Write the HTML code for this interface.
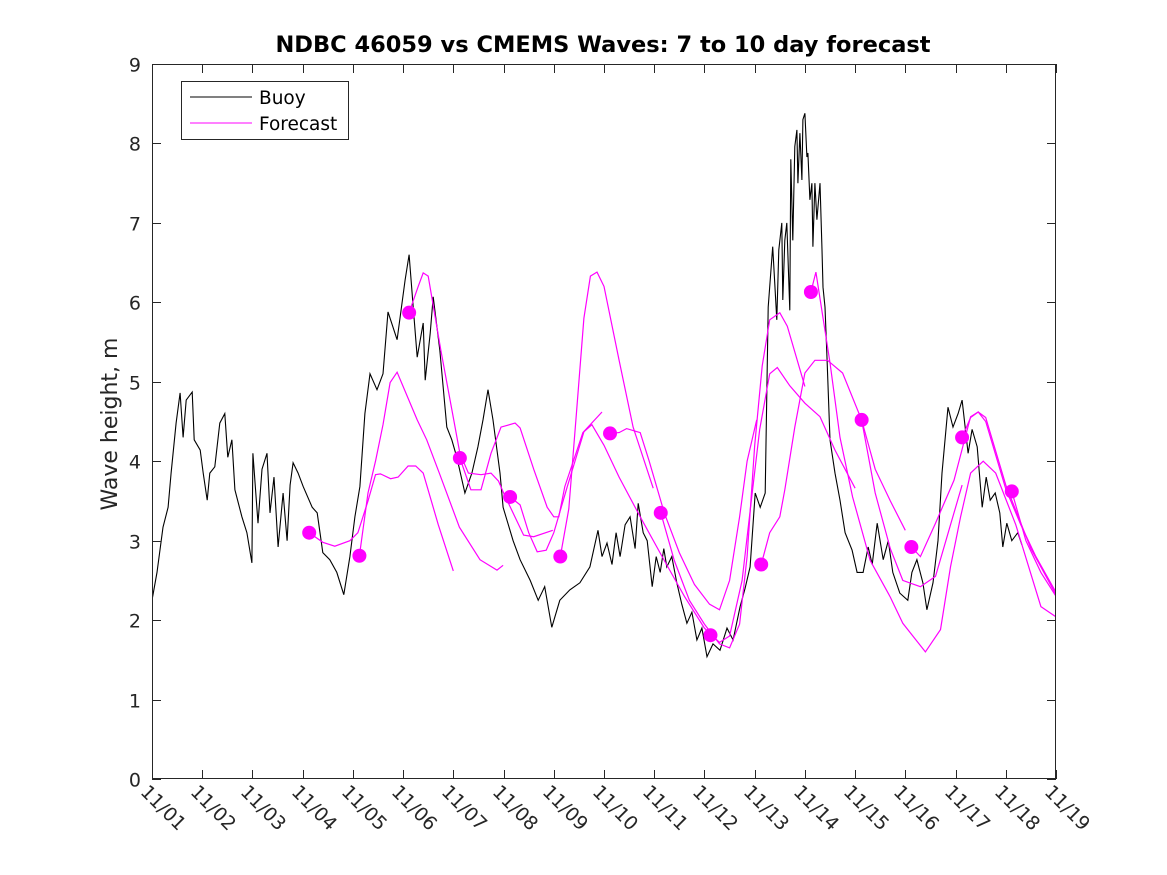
<!DOCTYPE html>
<html><head><meta charset="utf-8"><style>
body{margin:0;background:#fff;}
svg{display:block;font-family:"DejaVu Sans","Liberation Sans",sans-serif;}
</style></head><body>
<svg id="chart" width="1167" height="875" viewBox="0 0 1167 875" xmlns="http://www.w3.org/2000/svg">
<rect width="1167" height="875" fill="#fff"/>
<text x="603" y="52" text-anchor="middle" font-size="22.5" font-weight="bold" fill="#000">NDBC 46059 vs CMEMS Waves: 7 to 10 day forecast</text>
<text transform="translate(117,424) rotate(-90)" text-anchor="middle" font-size="22" fill="#262626">Wave height, m</text>
<g id="plot"></g>
<g id="legend">
<rect x="181.5" y="81.5" width="167" height="58" fill="#fff" stroke="#262626" stroke-width="1"/>
<line x1="190" y1="97" x2="252" y2="97" stroke="#000" stroke-width="1"/>
<text x="259" y="104" font-size="18.5" fill="#000">Buoy</text>
<line x1="190" y1="123" x2="252" y2="123" stroke="#ff00ff" stroke-width="1"/>
<text x="259" y="130" font-size="18.5" fill="#000">Forecast</text>
</g>
</svg>
<script>
const xLabels = ["11/01","11/02","11/03","11/04","11/05","11/06","11/07","11/08","11/09","11/10","11/11","11/12","11/13","11/14","11/15","11/16","11/17","11/18","11/19"];
const yTicks = [0,1,2,3,4,5,6,7,8,9];
const buoyDays = [
0,0.10,0.22,0.32,0.38,0.48,0.56,0.62,0.68,0.80,
0.84,0.96,1.02,1.10,1.15,1.25,1.35,1.45,1.51,1.59,
1.65,1.79,1.89,1.99,2.01,2.11,2.19,2.29,2.35,2.43,
2.51,2.61,2.69,2.75,2.81,2.91,3.01,3.19,3.29,3.40,
3.54,3.68,3.82,3.94,4.04,4.14,4.24,4.34,4.48,4.60,
4.70,4.88,5.04,5.12,5.20,5.28,5.40,5.44,5.54,5.60,
5.73,5.87,5.97,6.07,6.23,6.37,6.49,6.59,6.69,6.79,
6.93,6.99,7.19,7.33,7.53,7.69,7.82,7.96,8.12,8.32,
8.52,8.72,8.88,8.96,9.06,9.16,9.24,9.32,9.42,9.52,
9.62,9.68,9.78,9.86,9.96,10.04,10.12,10.19,10.25,10.35,
10.45,10.55,10.65,10.75,10.85,10.95,11.05,11.17,11.31,11.45,
11.57,11.71,11.81,11.91,12.01,12.11,12.21,12.27,12.36,12.44,
12.48,12.54,12.56,12.60,12.64,12.70,12.72,12.76,12.80,12.84,
12.86,12.90,12.94,12.96,13.00,13.04,13.06,13.10,13.14,13.16,
13.20,13.24,13.30,13.34,13.36,13.40,13.44,13.50,13.60,13.70,
13.80,13.94,14.04,14.16,14.26,14.34,14.44,14.56,14.66,14.75,
14.89,15.05,15.13,15.23,15.35,15.43,15.55,15.65,15.73,15.85,
15.95,16.05,16.13,16.25,16.33,16.43,16.53,16.61,16.69,16.79,
16.88,16.94,17.02,17.12,17.24,17.32];
const buoyVals = [
2.25,2.6,3.17,3.42,3.85,4.48,4.86,4.3,4.77,4.87,
4.27,4.14,3.85,3.51,3.85,3.93,4.48,4.6,4.05,4.27,
3.64,3.3,3.1,2.72,4.1,3.22,3.9,4.1,3.35,3.8,
2.92,3.6,3.0,3.7,3.98,3.85,3.68,3.42,3.35,2.85,
2.76,2.6,2.32,2.8,3.3,3.68,4.6,5.1,4.9,5.1,
5.88,5.53,6.28,6.6,5.94,5.31,5.74,5.02,5.61,6.07,
5.4,4.43,4.27,4.05,3.6,3.85,4.18,4.52,4.9,4.52,
3.85,3.42,3.0,2.76,2.5,2.25,2.42,1.91,2.25,2.38,
2.47,2.67,3.13,2.8,2.97,2.7,3.1,2.8,3.2,3.3,
2.9,3.47,3.1,3.0,2.42,2.8,2.6,2.9,2.67,2.8,
2.47,2.2,1.96,2.1,1.75,1.9,1.54,1.7,1.62,1.9,
1.75,2.17,2.4,2.67,3.6,3.42,3.6,5.94,6.7,5.78,
6.66,7.0,6.03,6.78,7.0,5.9,7.8,6.78,7.96,8.17,
7.5,8.13,7.54,8.3,8.38,7.83,7.88,7.29,7.5,6.7,
7.5,7.04,7.5,6.66,6.19,5.94,5.3,4.27,3.85,3.51,
3.1,2.88,2.6,2.6,2.92,2.7,3.22,2.76,3.0,2.6,
2.34,2.25,2.6,2.76,2.47,2.13,2.47,3.0,3.85,4.68,
4.43,4.6,4.77,4.1,4.4,4.18,3.42,3.8,3.51,3.6,
3.35,2.92,3.22,3.0,3.1,2.95];
const dotDays = [3.13,4.13,5.12,6.13,7.13,8.13,9.12,10.13,11.12,12.13,13.12,14.13,15.12,16.13,17.12];
const dotVals = [3.10,2.81,5.87,4.04,3.55,2.80,4.35,3.35,1.81,2.70,6.13,4.52,2.92,4.30,3.62];
const fc1Days = [3.13,3.4,3.64,3.94,4.1,4.3,4.45,4.55,4.75,4.9,5.1,5.25,5.4,5.7,6.0];
const fc1Vals = [3.10,2.98,2.93,3.0,3.1,3.5,3.83,3.84,3.78,3.80,3.94,3.94,3.85,3.2,2.62];
const fc2Days = [4.13,4.3,4.45,4.6,4.74,4.88,5.28,5.47,5.72,6.12,6.53,6.87,6.99];
const fc2Vals = [2.81,3.6,4.0,4.46,4.99,5.12,4.52,4.27,3.85,3.17,2.76,2.63,2.69];
const fc3Days = [5.12,5.3,5.4,5.5,5.75,6.0,6.13,6.3,6.55,6.75,6.9,7.0,7.4,7.6,7.98];
const fc3Vals = [5.87,6.2,6.37,6.33,5.4,4.55,4.1,3.85,3.83,3.85,3.75,3.6,3.07,3.05,3.13];
const fc4Days = [6.13,6.35,6.55,6.75,6.95,7.23,7.33,7.6,7.87,8.0,8.1,8.22,8.58,8.96];
const fc4Vals = [4.04,3.64,3.64,4.1,4.43,4.48,4.42,3.9,3.42,3.3,3.3,3.68,4.36,4.62];
const fc5Days = [7.13,7.33,7.5,7.67,7.85,8.0,8.27,8.6,8.76,9.0,9.3,9.72,10.2,10.6,11.0,11.3,11.5,11.75,11.95,12.1,12.3,12.45,12.7,13.0,13.3,13.6,14.0];
const fc5Vals = [3.55,3.45,3.1,2.86,2.88,3.1,3.68,4.37,4.46,4.2,3.8,3.3,2.75,2.3,1.9,1.72,1.8,2.5,3.6,4.4,5.1,5.18,4.95,4.73,4.56,4.14,3.66];
const fc6Days = [8.13,8.3,8.45,8.6,8.73,8.86,9.0,9.3,9.58,9.98];
const fc6Vals = [2.8,3.4,4.6,5.8,6.33,6.38,6.2,5.27,4.43,3.66];
const fc7Days = [9.12,9.3,9.45,9.72,9.9,10.2,10.5,10.8,11.1,11.3,11.5,11.7,11.85,12.04];
const fc7Vals = [4.35,4.36,4.41,4.36,4.0,3.35,2.85,2.45,2.2,2.13,2.5,3.3,4.0,4.52];
const fc8Days = [10.13,10.4,10.7,11.0,11.3,11.5,11.7,11.85,12.0,12.15,12.3,12.5,12.65,13.0];
const fc8Vals = [3.35,2.75,2.25,1.95,1.7,1.65,1.95,2.8,4.2,5.2,5.78,5.87,5.7,4.94];
const fc10Days = [12.13,12.3,12.5,12.6,12.8,13.0,13.2,13.45,13.75,14.13,14.4,14.7,15.0];
const fc10Vals = [2.7,3.1,3.3,3.64,4.43,5.11,5.27,5.27,5.11,4.52,3.9,3.5,3.13];
const fc11Days = [13.12,13.22,13.5,13.7,13.95,14.3,14.7,14.95,15.4,15.7,15.9,16.1,16.3,16.55,16.8,17.2,17.7,18.0];
const fc11Vals = [6.13,6.38,5.24,4.3,3.55,2.75,2.29,1.96,1.6,1.88,2.67,3.3,3.85,4.0,3.85,3.2,2.17,2.04];
const fc12Days = [14.13,14.4,14.7,14.95,15.3,15.6,15.9,16.13];
const fc12Vals = [4.52,3.6,2.9,2.5,2.42,2.55,3.2,3.7];
const fc13Days = [15.12,15.3,15.6,15.97,16.3,16.45,16.6,17.0,17.5,18.0];
const fc13Vals = [2.92,2.8,3.22,3.76,4.56,4.62,4.55,3.7,2.9,2.32];
const fc14Days = [16.13,16.3,16.45,16.6,17.0,17.3,17.6,18.0];
const fc14Vals = [4.3,4.55,4.62,4.5,3.65,3.2,2.8,2.35];
const fc15Days = [17.12,17.4,17.7,18.0];
const fc15Vals = [3.62,3.0,2.6,2.3];

const X0=152, X1=1056, Y0=779, Y1=64;
const xScale = d => X0 + d*(X1-X0)/18;
const yScale = v => Y0 - v*(Y0-Y1)/9;
const NS="http://www.w3.org/2000/svg";
const plot=document.getElementById('plot');
function mk(tag, attrs){const e=document.createElementNS(NS,tag);for(const k in attrs)e.setAttribute(k,attrs[k]);return e;}

const bg=mk('rect',{x:X0,y:Y1,width:X1-X0,height:Y0-Y1,fill:'#fff'});


plot.appendChild(bg);

const clip=mk('clipPath',{id:'pc'});clip.appendChild(mk('rect',{x:X0,y:Y1,width:X1-X0,height:Y0-Y1}));plot.appendChild(clip);
const series=mk('g',{'clip-path':'url(#pc)'});plot.appendChild(series);

const bp=mk('polyline',{points:buoyDays.map((d,i)=>xScale(d).toFixed(1)+','+yScale(buoyVals[i]).toFixed(1)).join(' '),fill:'none',stroke:'#000','stroke-width':1.1,'stroke-linejoin':'miter'});


series.appendChild(bp);

const fcs=[[fc1Days,fc1Vals],[fc2Days,fc2Vals],[fc3Days,fc3Vals],[fc4Days,fc4Vals],[fc5Days,fc5Vals],[fc6Days,fc6Vals],[fc7Days,fc7Vals],[fc8Days,fc8Vals],[fc10Days,fc10Vals],[fc11Days,fc11Vals],[fc12Days,fc12Vals],[fc13Days,fc13Vals],[fc14Days,fc14Vals],[fc15Days,fc15Vals]];
fcs.forEach((f,j)=>{
  const p=mk('polyline',{points:f[0].map((d,i)=>xScale(d).toFixed(1)+','+yScale(f[1][i]).toFixed(1)).join(' '),fill:'none',stroke:'#ff00ff','stroke-width':1.2});
  
  
  series.appendChild(p);
});
dotDays.forEach((d,i)=>{
  const c=mk('circle',{cx:xScale(d),cy:yScale(dotVals[i]),r:7,fill:'#ff00ff'});
  
  
  series.appendChild(c);
});

const frame=mk('rect',{x:X0+0.5,y:Y1+0.5,width:X1-X0-1,height:Y0-Y1-1,fill:'none',stroke:'#262626','stroke-width':1});


plot.appendChild(frame);

xLabels.forEach((lab,i)=>{
  const x=Math.round(xScale(i))+0.5;
  const t1=mk('line',{x1:x,y1:Y0,x2:x,y2:Y0-9,stroke:'#262626'});
  
  
  plot.appendChild(t1);
  const t2=mk('line',{x1:x,y1:Y1,x2:x,y2:Y1+9,stroke:'#262626'});
  
  
  plot.appendChild(t2);
  const tx=mk('text',{transform:`translate(${x-13},${793}) rotate(45)`,'font-size':19,fill:'#262626'});
  tx.textContent=lab;
  
  
  plot.appendChild(tx);
});
yTicks.forEach(v=>{
  const y=Math.round(yScale(v))+0.5;
  const t1=mk('line',{x1:X0,y1:y,x2:X0+9,y2:y,stroke:'#262626'});
  
  
  plot.appendChild(t1);
  const t2=mk('line',{x1:X1,y1:y,x2:X1-9,y2:y,stroke:'#262626'});
  
  
  plot.appendChild(t2);
  const tx=mk('text',{x:141,y:y+7,'text-anchor':'end','font-size':19,fill:'#262626'});
  tx.textContent=v;
  
  
  plot.appendChild(tx);
});
</script>
</body></html>
